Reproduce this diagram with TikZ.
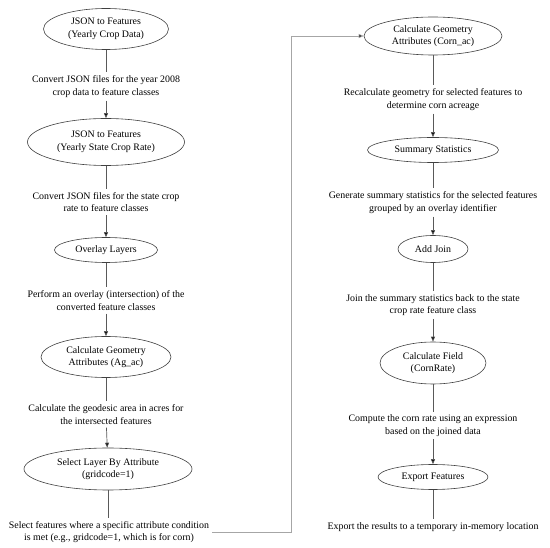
\documentclass[tikz,border=0pt]{standalone}
\usepackage{fontspec}
\setmainfont{Liberation Serif}
\usetikzlibrary{shapes.geometric,arrows.meta}
\begin{document}
\begin{tikzpicture}[x=1pt,y=-1pt,
  every node/.style={font=\fontsize{9.9}{12.6}\selectfont, text=black},
  proc/.style={ellipse, draw=black!75, line width=0.6pt, inner sep=0pt, align=center},
  lbl/.style={align=center, inner sep=3pt},
  link/.style={draw=black!65, line width=0.7pt},
  arr/.style={link, -{Triangle[length=5pt,width=4pt,fill=black]}},
  loop/.style={draw=black!35, line width=0.7pt, -{Triangle[length=5pt,width=4pt,fill=black]}}
]
\useasboundingbox (0,0) rectangle (550,548);
% left column
\node[proc, minimum width=125pt, minimum height=41pt] (e1) at (106,29) {JSON to Features\\(Yearly Crop Data)};
\node[lbl] (l1) at (106,86.5) {Convert JSON files for the year 2008\\crop data to feature classes};
\node[proc, minimum width=157pt, minimum height=47pt] (e2) at (106,142) {JSON to Features\\(Yearly State Crop Rate)};
\node[lbl] (l2) at (106,202) {Convert JSON files for the state crop\\rate to feature classes};
\node[proc, minimum width=103pt, minimum height=25pt] (e3) at (106,250) {Overlay Layers};
\node[lbl] (l3) at (106,300.5) {Perform an overlay (intersection) of the\\converted feature classes};
\node[proc, minimum width=130pt, minimum height=41pt] (e4) at (106,357) {Calculate Geometry\\Attributes (Ag\_ac)};
\node[lbl] (l4) at (106,414.5) {Calculate the geodesic area in acres for\\the intersected features};
\node[proc, minimum width=168pt, minimum height=42pt] (e5) at (108,469) {Select Layer By Attribute\\(gridcode=1)};
\node[lbl] (l5) at (109,532) {Select features where a specific attribute condition\\is met (e.g., gridcode=1, which is for corn)};
% right column
\node[proc, minimum width=138pt, minimum height=38pt] (e6) at (433,36) {Calculate Geometry\\Attributes (Corn\_ac)};
\node[lbl] (l6) at (433,99.5) {Recalculate geometry for selected features to\\determine corn acreage};
\node[proc, minimum width=131pt, minimum height=25pt] (e7) at (433,150) {Summary Statistics};
\node[lbl] (l7) at (433,202.5) {Generate summary statistics for the selected features\\grouped by an overlay identifier};
\node[proc, minimum width=70pt, minimum height=27pt] (e8) at (433,249) {Add Join};
\node[lbl] (l8) at (433,305) {Join the summary statistics back to the state\\crop rate feature class};
\node[proc, minimum width=106pt, minimum height=42pt] (e9) at (433,363) {Calculate Field\\(CornRate)};
\node[lbl] (l9) at (433,425.5) {Compute the corn rate using an expression\\based on the joined data};
\node[proc, minimum width=110pt, minimum height=25pt] (e10) at (433,477) {Export Features};
\node[lbl] (l10) at (433,527) {Export the results to a temporary in-memory location};
% connectors
\foreach \a/\b in {e1/l1,e2/l2,e3/l3,e4/l4,e6/l6,e7/l7,e8/l8,e9/l9} \draw[link] (\a) -- (\b);
\draw[link] (e5) -- (e5 |- l5.north);
\draw[link] (e10) -- (l10);
\foreach \a/\b in {l1/e2,l2/e3,l3/e4,l4/e5,l6/e7,l7/e8,l8/e9,l9/e10} \draw[arr] (\a) -- (\b);
\coordinate (bend) at (291,0);
\draw[loop] (l5.east) -| (bend |- e6.west) -- (e6.west);
\end{tikzpicture}
\end{document}
